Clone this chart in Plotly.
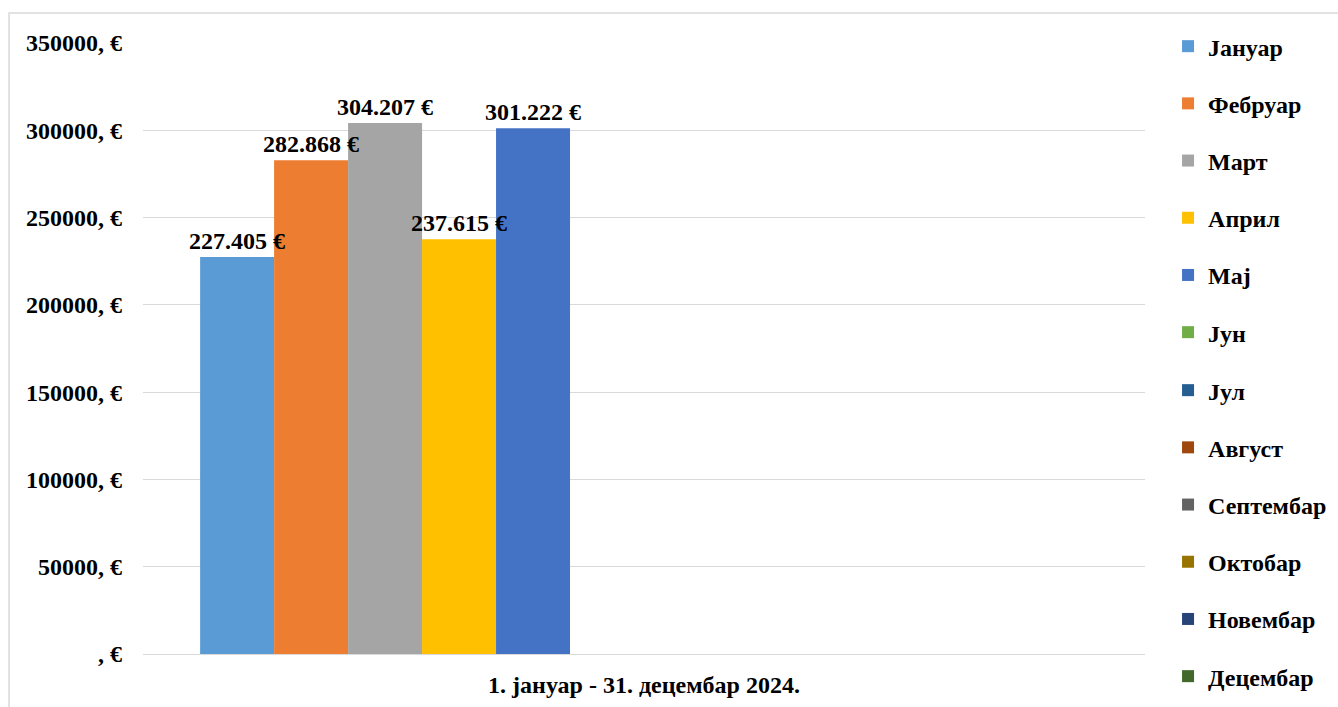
import plotly.graph_objects as go

category = ["1. јануар - 31. децембар 2024."]
months = ["Јануар", "Фебруар", "Март", "Април", "Мај", "Јун", "Јул",
          "Август", "Септембар", "Октобар", "Новембар", "Децембар"]
values = [227405, 282868, 304207, 237615, 301222, None, None, None, None, None, None, None]
colors = ["#5B9BD5", "#ED7D31", "#A5A5A5", "#FFC000", "#4472C4", "#70AD47",
          "#255E91", "#9E480E", "#636363", "#997300", "#264478", "#43682B"]
tick_vals = [0, 50000, 100000, 150000, 200000, 250000, 300000, 350000]
tick_text = [", €", "50000, €", "100000, €", "150000, €", "200000, €",
             "250000, €", "300000, €", "350000, €"]

FONT = "Liberation Serif"
FS = 24
BOLD = dict(family=FONT, size=FS, color="black", weight="bold")

fig = go.Figure()
# coloured bars (legend split in two blocks of six so it never scrolls)
for i, (m, v, c) in enumerate(zip(months, values, colors)):
    leg = "legend" if i < 6 else "legend2"
    fig.add_trace(go.Bar(
        x=category, y=[v], name=m, marker=dict(color=c, line=dict(width=0)),
        offsetgroup=str(i), legendgroup=m, legend=leg, hoverinfo="skip",
    ))
# value labels drawn on top of every bar (transparent bars sharing the slots)
for i, (m, v) in enumerate(zip(months, values)):
    leg = "legend" if i < 6 else "legend2"
    fig.add_trace(go.Bar(
        x=category, y=[v], name=m, marker=dict(color="rgba(0,0,0,0)", line=dict(width=0)),
        offsetgroup=str(i), legendgroup=m, legend=leg, showlegend=False, hoverinfo="skip",
        texttemplate="%{y:,.0f} €", textposition="outside",
        constraintext="none", cliponaxis=False, textfont=BOLD,
    ))

legend_common = dict(x=1.023, xanchor="left", yanchor="top", font=BOLD,
                      tracegroupgap=23, itemwidth=30, bgcolor="rgba(0,0,0,0)")

fig.update_layout(
    width=1338, height=707,
    barmode="group", bargap=0.114, bargroupgap=0,
    separators=",.",
    plot_bgcolor="white", paper_bgcolor="white",
    margin=dict(l=143, r=193, t=43, b=53, autoexpand=False),
    font=BOLD,
    showlegend=True,
    legend=dict(y=1.031, **legend_common),
    legend2=dict(y=0.468, **legend_common),
    xaxis=dict(showgrid=False, showline=False, ticks="", ticklabelstandoff=14,
               tickfont=BOLD, fixedrange=True),
    yaxis=dict(range=[0, 350000], tickvals=tick_vals, ticktext=tick_text,
               showgrid=True, gridcolor="#D9D9D9", gridwidth=1.3,
               zeroline=True, zerolinecolor="#D9D9D9", zerolinewidth=1.3,
               showline=False, ticks="", ticklabelstandoff=20,
               tickfont=BOLD, fixedrange=True),
    shapes=[dict(type="rect", xref="paper", yref="paper",
                 x0=-0.1337, x1=1.3, y0=-0.2, y1=1.049,
                 line=dict(color="#D9D9D9", width=1.5), fillcolor="rgba(0,0,0,0)",
                 layer="below")],
)

fig.write_html("out.html", config={"displayModeBar": False},
               post_script="document.body.style.margin='0';document.body.style.overflow='hidden';")
